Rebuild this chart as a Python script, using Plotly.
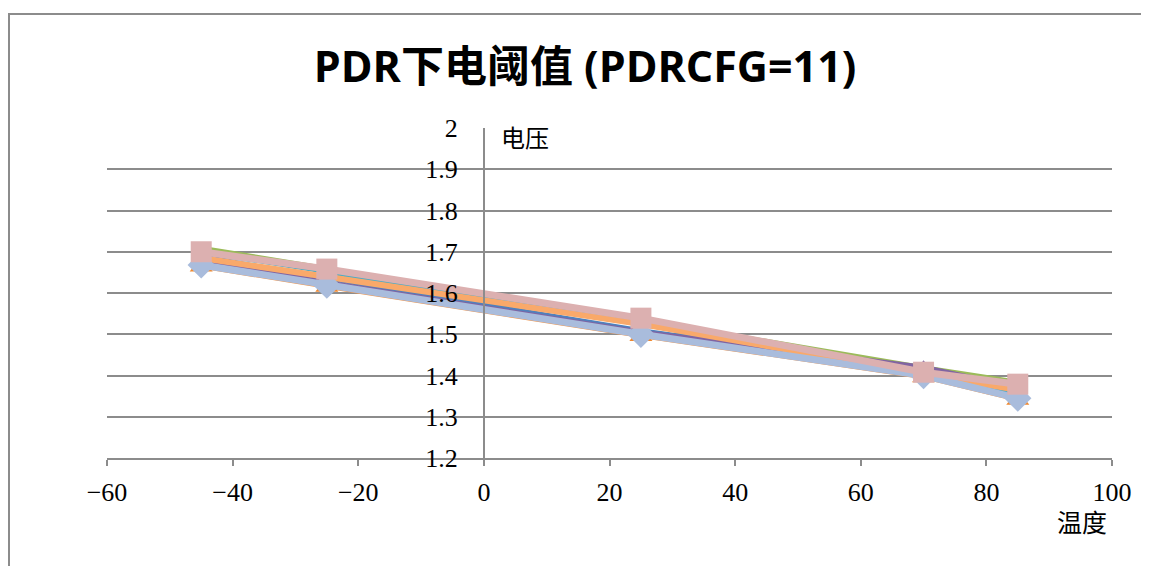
import plotly.graph_objects as go

temps = [-45, -25, 25, 70, 85]
s_blue = [1.690, 1.635, 1.510, 1.415, 1.360]
s_orange_tri = [1.664, 1.615, 1.496, 1.396, 1.341]
s_green = [1.710, 1.660, 1.535, 1.420, 1.385]
s_purple = [1.680, 1.625, 1.505, 1.420, 1.370]
s_teal = [1.700, 1.652, 1.525, 1.410, 1.355]
s_lorange = [1.685, 1.640, 1.525, 1.405, 1.365]
s_lblue = [1.668, 1.619, 1.500, 1.400, 1.345]
s_pink = [1.700, 1.658, 1.539, 1.408, 1.379]

y_ticks = [1.2, 1.3, 1.4, 1.5, 1.6, 1.7, 1.8, 1.9, 2]
y_tick_text = ["1.2", "1.3", "1.4", "1.5", "1.6", "1.7", "1.8", "1.9", "2"]
x_ticks = [-60, -40, -20, 0, 20, 40, 60, 80, 100]

title = "PDR下电阈值 (PDRCFG=11)"
y_title = "电压"
x_title = "温度"

series = [
    (s_blue, "#4F81BD", 4, "triangle-up", 12, "#4F81BD"),
    (s_orange_tri, "#F79646", 4, "triangle-up", 20, "#F0892F"),
    (s_green, "#9BBB59", 4, "circle", 1, "#9BBB59"),
    (s_purple, "#8064A2", 5, "triangle-up", 14, "#8064A2"),
    (s_teal, "#4BACC6", 5, "circle", 1, "#4BACC6"),
    (s_lorange, "#F9A96A", 6, "circle", 1, "#F9A96A"),
    (s_lblue, "#A9BCDC", 7, "diamond", 21, "#A9BCDC"),
    (s_pink, "#DCB0B0", 7, "square", 21, "#DCB0B0"),
]

fig = go.Figure()
for vals, col, w, sym, ms, mcol in series:
    fig.add_trace(go.Scatter(
        x=temps, y=vals, mode="lines+markers",
        line=dict(color=col, width=w),
        marker=dict(symbol=sym, size=ms, color=mcol, line=dict(width=0)),
        showlegend=False, hoverinfo="skip",
    ))

# page body has an 8px offset, so the figure starts at (8, 8)
OFF = 8
W, H = 1149 - OFF, 566 - OFF
L, R, T, B = 107 - OFF, 37, 128 - OFF, 108
pw, ph = W - L - R, H - T - B

def px_x(p):
    return (p - OFF - L) / pw

def px_y(p):
    return (H - B - (p - OFF)) / ph

fig.update_layout(
    width=W, height=H,
    margin=dict(l=L, r=R, t=T, b=B, pad=0),
    paper_bgcolor="white", plot_bgcolor="white",
    title=dict(text="<b>" + title + "</b>", xref="container", x=(585 - OFF) / W,
               xanchor="center", y=1 - (67 - OFF) / H, yanchor="middle",
               font=dict(family="Open Sans, Noto Sans CJK SC", size=43, color="black")),
    xaxis=dict(range=[-60, 100], tickmode="array", tickvals=x_ticks,
               showgrid=False, zeroline=False,
               showline=True, linecolor="#8C8C8C", linewidth=2,
               ticks="outside", ticklen=6, tickwidth=2, tickcolor="#8C8C8C",
               tickfont=dict(family="Liberation Serif", size=26, color="black"),
               ticklabelstandoff=4),
    yaxis=dict(range=[1.2, 2.0], tickmode="array", tickvals=y_ticks, ticktext=y_tick_text,
               anchor="free", position=0.375,
               showgrid=True, gridcolor="#8C8C8C", gridwidth=2, zeroline=False,
               showline=True, linecolor="#8C8C8C", linewidth=2,
               ticks="",
               tickfont=dict(family="Liberation Serif", size=26, color="black"),
               ticklabelstandoff=20),
    annotations=[
        dict(text=y_title, xref="paper", yref="paper", x=px_x(499), y=px_y(136),
             xanchor="left", yanchor="middle", showarrow=False,
             font=dict(family="Noto Sans CJK SC", size=24, color="black")),
        dict(text=x_title, xref="paper", yref="paper", x=px_x(1082), y=px_y(521),
             xanchor="center", yanchor="middle", showarrow=False,
             font=dict(family="Noto Sans CJK SC", size=25, color="black")),
    ],
    shapes=[
        dict(type="line", xref="paper", yref="paper", x0=px_x(9), x1=px_x(9),
             y0=px_y(14), y1=px_y(570), line=dict(color="#8C8C8C", width=2)),
        dict(type="line", xref="paper", yref="paper", x0=px_x(8), x1=px_x(1150),
             y0=px_y(14), y1=px_y(14), line=dict(color="#8C8C8C", width=2)),
    ],
)

fig.write_html("out.html")
